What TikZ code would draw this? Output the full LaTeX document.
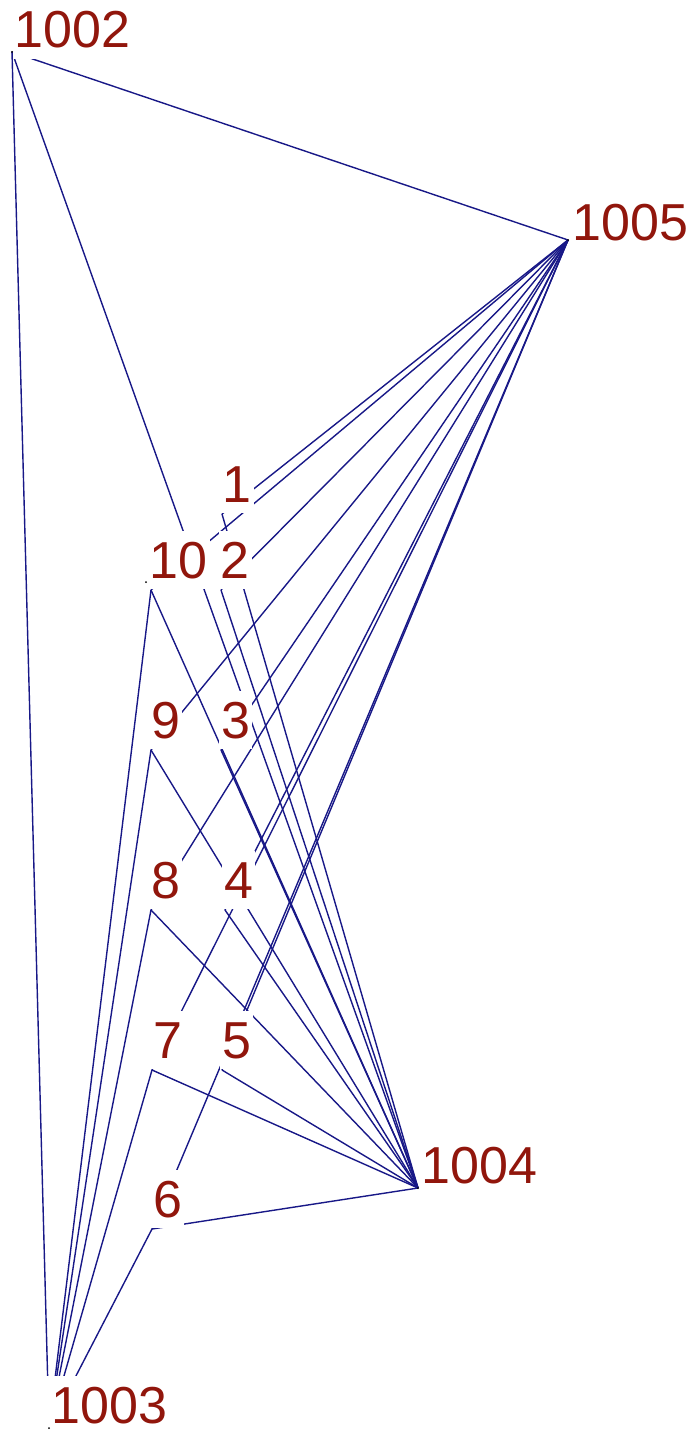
\documentclass[tikz,border=0pt]{standalone}
\usepackage{fontspec}
\setmainfont{Liberation Sans}
\definecolor{edgeblue}{RGB}{24,24,135}
\definecolor{labelred}{RGB}{145,22,12}
\tikzset{
  vtx/.style={circle, fill=black, inner sep=0pt, minimum size=2pt},
  conn/.style={draw=edgeblue, line width=1.4pt},
  lbl/.style={anchor=base west, fill=white, text=labelred, inner xsep=2pt, inner ysep=0pt,
    text height=47pt, text depth=11pt, font=\fontsize{52}{60}\selectfont}
}
\begin{document}
\begin{tikzpicture}[x=1pt, y=-1pt]
        \useasboundingbox (0,0) rectangle (694,1434);
        % Vertices (outer)
        \coordinate (v1002) at (12,52);
        \coordinate (v1005) at (568,240);
        \coordinate (v1004) at (418,1188);
        \coordinate (v1003) at (49,1428);

        % Vertices (inner, under the labels)
        \coordinate (v1) at (222,514);
        \coordinate (v2) at (221,590);
        \coordinate (v3) at (221,750);
        \coordinate (v4) at (225,910);
        \coordinate (v5) at (222,1070);
        \coordinate (v10) at (151,590);
        \coordinate (v9) at (151,750);
        \coordinate (v8) at (151,910);
        \coordinate (v7) at (152,1070);
        \coordinate (v6) at (152,1229);

        % Edges (outer)
        \draw[conn] (v1002) -- (v1005);
        \draw[conn] (v1002) -- (v1003);
        \draw[conn] (v1002) -- (v1004);

        % Edges (to 1005)
        \draw[conn] (v1) -- (v1005);
        \draw[conn] (v2) -- (v1005);
        \draw[conn] (v3) -- (v1005);
        \draw[conn] (v4) -- (v1005);
        \draw[conn] (v5) -- (v1005);
        \draw[conn] (v6) -- (v1005);
        \draw[conn] (v7) -- (v1005);
        \draw[conn] (v8) -- (v1005);
        \draw[conn] (v9) -- (v1005);
        \draw[conn] (v10) -- (v1005);

        % Edges (to 1004)
        \draw[conn] (v1) -- (v1004);
        \draw[conn] (v2) -- (v1004);
        \draw[conn] (v3) -- (v1004);
        \draw[conn] (v4) -- (v1004);
        \draw[conn] (v5) -- (v1004);
        \draw[conn] (v6) -- (v1004);
        \draw[conn] (v7) -- (v1004);
        \draw[conn] (v8) -- (v1004);
        \draw[conn] (v9) -- (v1004);
        \draw[conn] (v10) -- (v1004);

        % Edges (to 1003)
        \draw[conn] (v6) -- (v1003);
        \draw[conn] (v7) -- (v1003);
        \draw[conn] (v8) -- (v1003);
        \draw[conn] (v9) -- (v1003);
        \draw[conn] (v10) -- (v1003);

        % Labels (white boxes hide the line ends)
        \node (t1002) at (12.5,48) [lbl] {1002};
        \node (t1005) at (570.5,240) [lbl] {1005};
        \node (t1004) at (419.5,1183) [lbl] {1004};
        \node (t1003) at (45.5,1423) [lbl, inner xsep=6pt] {1003};
        \node (t1) at (220.5,502) [lbl] {1};
        \node (t2) at (218.5,578) [lbl] {2};
        \node (t3) at (219,738) [lbl] {3};
        \node (t4) at (222,898) [lbl] {4};
        \node (t5) at (220,1058) [lbl] {5};
        \node (t10) at (147.5,578) [lbl] {10};
        \node (t9) at (149,738) [lbl] {9};
        \node (t8) at (149,898) [lbl] {8};
        \node (t7) at (151,1058) [lbl] {7};
        \node (t6) at (151,1217) [lbl] {6};

        % Vertex dots (on top)
        \node (d1002) at (v1002) [vtx] {};
        \node (d1005) at (v1005) [vtx] {};
        \node (d1004) at (v1004) [vtx] {};
        \node (d1003) at (v1003) [vtx] {};
        \node (d10) at (146,582) [vtx] {};
\end{tikzpicture}
\end{document}
